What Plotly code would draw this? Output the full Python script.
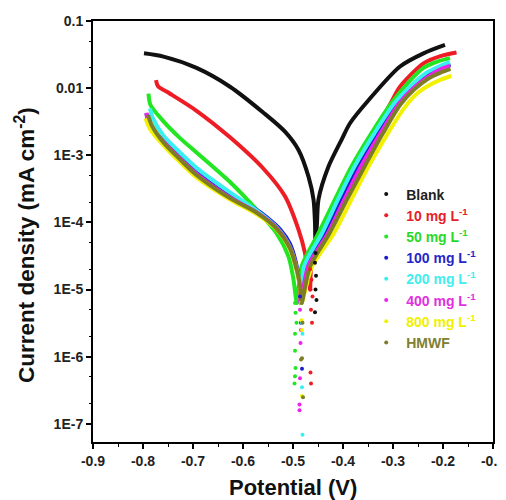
import plotly.graph_objects as go

# ---------------- data (potential in V, current density in mA cm^-2) ----------------
series_names = ["Blank", "10 mg L<sup>-1</sup>", "50 mg L<sup>-1</sup>", "100 mg L<sup>-1</sup>",
                "200 mg L<sup>-1</sup>", "400 mg L<sup>-1</sup>", "800 mg L<sup>-1</sup>", "HMWF"]

pot_blank = [-0.798, -0.759, -0.693, -0.626, -0.559, -0.516, -0.489, -0.469, -0.459, -0.456, -0.455,
             -0.452, -0.449, -0.429, -0.403, -0.386, -0.349, -0.286, -0.239, -0.196]
cur_blank = [3.3e-2, 2.95e-2, 2.0e-2, 1.05e-2, 4.3e-3, 2.25e-3, 1.2e-3, 4.8e-4, 2.2e-4, 9.8e-5, 4.5e-5,
             1.0e-4, 2.2e-4, 6.8e-4, 1.7e-3, 3.0e-3, 6.6e-3, 2.1e-2, 3.3e-2, 4.4e-2]

pot_10 = [-0.774, -0.770, -0.753, -0.693, -0.626, -0.559, -0.516, -0.489, -0.476, -0.470, -0.466,
          -0.462, -0.440, -0.408, -0.376, -0.338, -0.303, -0.286, -0.239, -0.205, -0.173]
cur_10 = [1.32e-2, 1.07e-2, 8.9e-3, 4.6e-3, 1.85e-3, 6.3e-4, 2.45e-4, 7.8e-5, 3.5e-5, 1.78e-5, 1.0e-5,
          3.0e-5, 6.9e-5, 2.2e-4, 6.8e-4, 2.14e-3, 6.3e-3, 1.05e-2, 2.34e-2, 3.0e-2, 3.4e-2]

pot_50 = [-0.789, -0.785, -0.759, -0.726, -0.693, -0.626, -0.573, -0.533, -0.509, -0.499, -0.492,
          -0.483, -0.449, -0.416, -0.383, -0.343, -0.303, -0.270, -0.239, -0.210, -0.186]
cur_50 = [8.3e-3, 5.6e-3, 3.2e-3, 1.8e-3, 1.1e-3, 4.0e-4, 1.55e-4, 6.9e-5, 3.1e-5, 1.41e-5, 6.3e-6,
          2.2e-5, 6.9e-5, 2.2e-4, 6.8e-4, 2.14e-3, 6.0e-3, 1.2e-2, 2.0e-2, 2.5e-2, 2.8e-2]

pot_100 = [-0.793, -0.787, -0.759, -0.726, -0.693, -0.626, -0.573, -0.553, -0.526, -0.506, -0.494, -0.487,
           -0.484, -0.475, -0.438, -0.405, -0.372, -0.333, -0.294, -0.262, -0.232, -0.205, -0.185]
cur_100 = [4.2e-3, 2.8e-3, 1.62e-3, 9.3e-4, 5.6e-4, 2.45e-4, 1.55e-4, 1.2e-4, 7.9e-5, 4.8e-5, 2.5e-5, 1.26e-5,
           6.3e-6, 2.2e-5, 6.9e-5, 2.2e-4, 6.8e-4, 2.14e-3, 6.0e-3, 1.07e-2, 1.58e-2, 2.0e-2, 2.24e-2]

pot_200 = [-0.786, -0.780, -0.759, -0.726, -0.693, -0.626, -0.573, -0.533, -0.506, -0.493, -0.486,
           -0.482, -0.478, -0.442, -0.410, -0.377, -0.337, -0.297, -0.265, -0.235, -0.208, -0.186]
cur_200 = [5.0e-3, 3.55e-3, 1.95e-3, 1.1e-3, 6.5e-4, 2.8e-4, 1.52e-4, 8.5e-5, 4.3e-5, 2.14e-5, 1.2e-5,
           6.3e-6, 2.2e-5, 6.9e-5, 2.2e-4, 6.8e-4, 2.14e-3, 6.0e-3, 1.07e-2, 1.66e-2, 2.1e-2, 2.43e-2]

pot_400 = [-0.793, -0.789, -0.759, -0.726, -0.693, -0.626, -0.573, -0.533, -0.506, -0.493, -0.487,
           -0.485, -0.470, -0.430, -0.397, -0.364, -0.325, -0.287, -0.256, -0.228, -0.205, -0.186]
cur_400 = [4.3e-3, 3.0e-3, 1.6e-3, 9.0e-4, 5.3e-4, 2.35e-4, 1.42e-4, 8.3e-5, 4.2e-5, 2.1e-5, 1.2e-5,
           6.3e-6, 2.2e-5, 6.9e-5, 2.2e-4, 6.8e-4, 2.14e-3, 6.0e-3, 1.05e-2, 1.51e-2, 1.9e-2, 2.14e-2]

pot_800 = [-0.795, -0.785, -0.759, -0.726, -0.693, -0.626, -0.573, -0.533, -0.506, -0.493, -0.486,
           -0.483, -0.462, -0.418, -0.383, -0.349, -0.310, -0.278, -0.252, -0.226, -0.203, -0.183]
cur_800 = [3.55e-3, 2.4e-3, 1.4e-3, 7.9e-4, 4.7e-4, 2.2e-4, 1.33e-4, 7.9e-5, 4.0e-5, 2.0e-5, 1.12e-5,
           6.3e-6, 2.2e-5, 6.9e-5, 2.2e-4, 6.8e-4, 2.14e-3, 5.0e-3, 8.3e-3, 1.12e-2, 1.35e-2, 1.53e-2]

pot_hmwf = [-0.790, -0.782, -0.759, -0.726, -0.693, -0.626, -0.573, -0.533, -0.506, -0.493, -0.486,
            -0.483, -0.466, -0.427, -0.392, -0.357, -0.320, -0.286, -0.258, -0.230, -0.205, -0.185]
cur_hmwf = [4.0e-3, 2.75e-3, 1.55e-3, 8.7e-4, 5.1e-4, 2.3e-4, 1.4e-4, 8.1e-5, 4.1e-5, 2.04e-5, 1.17e-5,
            6.3e-6, 2.2e-5, 6.9e-5, 2.2e-4, 6.8e-4, 2.14e-3, 5.6e-3, 9.5e-3, 1.38e-2, 1.7e-2, 1.93e-2]

# scattered points near the corrosion potential
dot_pot_blank = [-0.455, -0.456, -0.454, -0.455, -0.453, -0.456]
dot_cur_blank = [3.5e-5, 2.5e-5, 1.6e-5, 1.0e-5, 7.0e-6, 4.6e-6]
dot_pot_10 = [-0.466, -0.463, -0.465, -0.461, -0.464, -0.462, -0.465, -0.464]
dot_cur_10 = [2.0e-5, 1.4e-5, 1.0e-5, 7.9e-6, 5.0e-6, 3.2e-6, 5.8e-7, 4.0e-7]
dot_pot_50 = [-0.494, -0.496, -0.495, -0.493, -0.496, -0.496, -0.495, -0.496, -0.497]
dot_cur_50 = [1.0e-5, 6.3e-6, 4.5e-6, 3.2e-6, 2.2e-6, 1.23e-6, 6.8e-7, 5.1e-7, 4.0e-7]
dot_pot_100 = [-0.486, -0.484, -0.482]
dot_cur_100 = [7.9e-6, 3.2e-6, 6.6e-7]
dot_pot_200 = [-0.484, -0.482, -0.481, -0.482, -0.481]
dot_cur_200 = [6.3e-6, 3.2e-6, 2.2e-6, 3.5e-7, 6.9e-8]
dot_pot_400 = [-0.486, -0.484, -0.485, -0.486, -0.487, -0.487]
dot_cur_400 = [5.0e-6, 2.5e-6, 1.6e-6, 4.8e-7, 1.95e-7, 1.6e-7]
dot_pot_800 = [-0.484, -0.483, -0.482, -0.482]
dot_cur_800 = [6.3e-6, 3.5e-6, 2.5e-6, 2.6e-7]
dot_pot_hmwf = [-0.483, -0.481, -0.482, -0.484, -0.480]
dot_cur_hmwf = [6.3e-6, 3.2e-6, 9.5e-7, 9.1e-7, 2.5e-7]

x_ticks = [-0.9, -0.8, -0.7, -0.6, -0.5, -0.4, -0.3, -0.2, -0.1]
x_ticktext = ["-0.9", "-0.8", "-0.7", "-0.6", "-0.5", "-0.4", "-0.3", "-0.2", "-0.1"]
y_ticks = [1e-1, 1e-2, 1e-3, 1e-4, 1e-5, 1e-6, 1e-7]
y_ticktext = ["0.1", "0.01", "1E-3", "1E-4", "1E-5", "1E-6", "1E-7"]

# ---------------- styling ----------------
line_colors = ["#111111", "#ee1c24", "#22e622", "#1c1ccc", "#38f0f0", "#ee22ee", "#f2f200", "#7d7d26"]
text_colors = ["#222222", "#e8202a", "#2ad82a", "#2626c8", "#40eeee", "#e030e0", "#f0f000", "#808030"]

curves = [(pot_blank, cur_blank), (pot_10, cur_10), (pot_50, cur_50), (pot_100, cur_100),
          (pot_200, cur_200), (pot_400, cur_400), (pot_800, cur_800), (pot_hmwf, cur_hmwf)]
dots = [(dot_pot_blank, dot_cur_blank), (dot_pot_10, dot_cur_10), (dot_pot_50, dot_cur_50),
        (dot_pot_100, dot_cur_100), (dot_pot_200, dot_cur_200), (dot_pot_400, dot_cur_400),
        (dot_pot_800, dot_cur_800), (dot_pot_hmwf, dot_cur_hmwf)]

FONT = "Liberation Sans, Arial, sans-serif"
fig = go.Figure()
for i, name in enumerate(series_names):
    px_, cy_ = curves[i]
    fig.add_trace(go.Scatter(x=px_, y=cy_, mode="lines", legendgroup=str(i), showlegend=False,
                             line=dict(color=line_colors[i], width=4, shape="spline", smoothing=0.8),
                             hoverinfo="skip"))
for i, name in enumerate(series_names):
    dx, dy = dots[i]
    fig.add_trace(go.Scatter(x=dx, y=dy, mode="markers", legendgroup=str(i),
                             name='<span style="color:%s">%s</span>' % (text_colors[i], name),
                             marker=dict(color=line_colors[i], size=4)))

# the page body adds an 8 px offset, so the figure is 8 px smaller on the top/left
fig.update_layout(
    width=498, height=492,
    margin=dict(l=85, r=13, t=13, b=58),
    paper_bgcolor="white", plot_bgcolor="white",
    font=dict(family=FONT, size=13, color="#222222"),
    showlegend=True,
    legend=dict(x=0.683, y=0.626, xanchor="left", yanchor="top",
                font=dict(family=FONT, size=14, color="#222222", weight="bold"),
                bgcolor="rgba(0,0,0,0)", itemwidth=30, tracegroupgap=0),
    annotations=[
        dict(text="Potential (V)", xref="paper", yref="paper", x=0.5, y=-0.109,
             xanchor="center", yanchor="middle", showarrow=False,
             font=dict(family=FONT, size=22, color="#111111", weight="bold")),
        dict(text="Current density (mA cm<sup>-2</sup>)", xref="paper", yref="paper",
             x=-0.17, y=0.468, xanchor="center", yanchor="middle", textangle=-90, showarrow=False,
             font=dict(family=FONT, size=22.5, color="#111111", weight="bold")),
    ],
)
fig.update_xaxes(
    range=[-0.9, -0.1], tickvals=x_ticks, ticktext=x_ticktext, automargin=False,
    showline=True, linecolor="black", linewidth=2, mirror=True,
    ticks="outside", ticklen=5, tickwidth=1.5, tickcolor="black",
    minor=dict(ticks="outside", ticklen=3, tickwidth=1, dtick=0.05, tick0=-0.9, tickcolor="black"),
    showgrid=False, zeroline=False,
    tickfont=dict(family=FONT, size=14, color="#222222", weight="bold"),
)
fig.update_yaxes(
    type="log", range=[-7.27, -1.0], tickvals=y_ticks, ticktext=y_ticktext, automargin=False,
    showline=True, linecolor="black", linewidth=2, mirror=True,
    ticks="outside", ticklen=5, tickwidth=1.5, tickcolor="black",
    minor=dict(ticks="outside", ticklen=2, tickwidth=1, tickcolor="black"),
    showgrid=False, zeroline=False,
    tickfont=dict(family=FONT, size=14, color="#222222", weight="bold"),
)

fig.write_html("out.html")
